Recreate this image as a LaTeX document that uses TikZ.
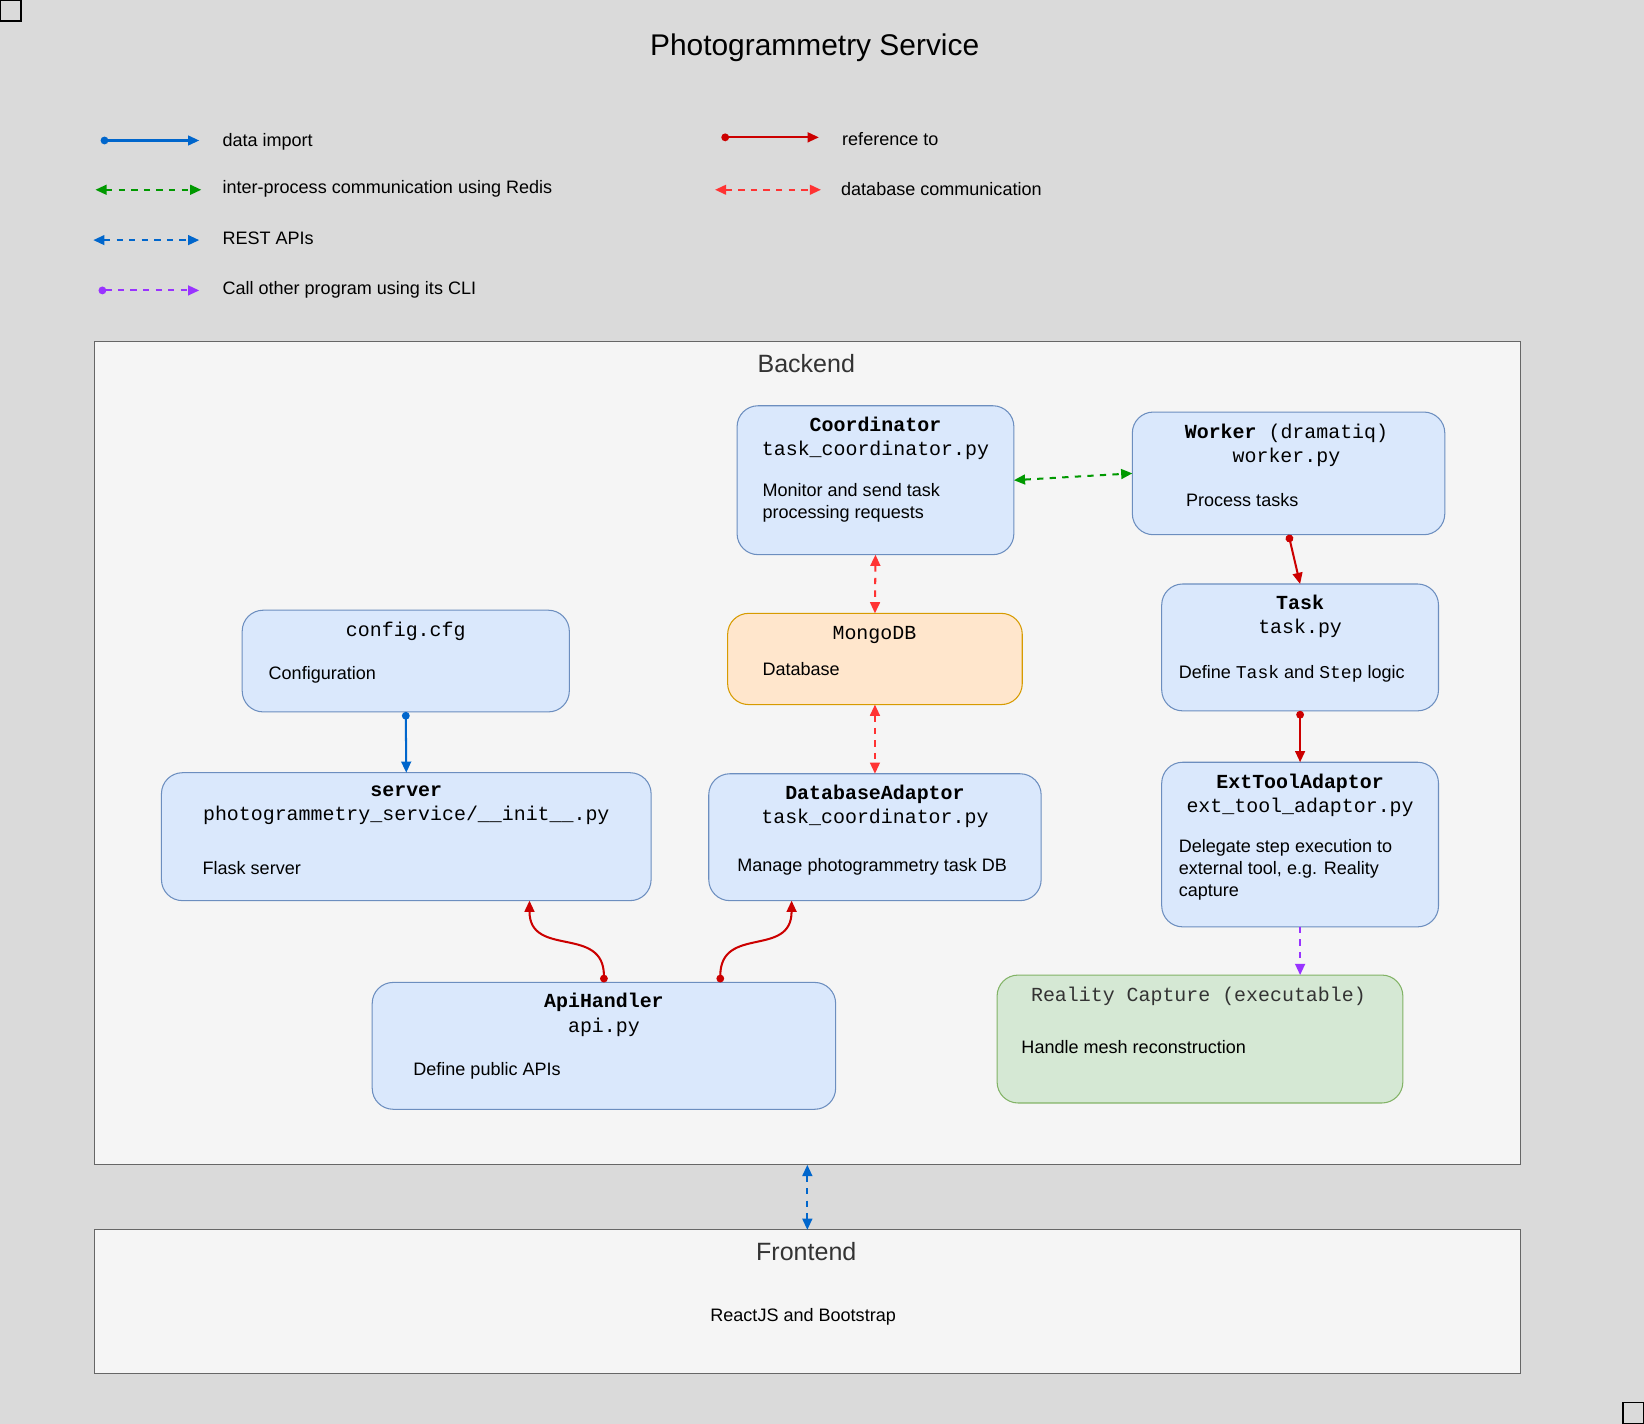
\documentclass[tikz,border=0pt]{standalone}
\usepackage{fontspec}
\setmainfont{Liberation Sans}
\setmonofont{Liberation Mono}
\usetikzlibrary{arrows.meta,calc}

\definecolor{bgcol}{HTML}{DADADA}
\definecolor{panelfill}{HTML}{F5F5F5}
\definecolor{panelline}{HTML}{666666}
\definecolor{bluefill}{HTML}{DAE8FC}
\definecolor{blueline}{HTML}{6C8EBF}
\definecolor{orangefill}{HTML}{FFE6CC}
\definecolor{orangeline}{HTML}{D79B00}
\definecolor{greenfill}{HTML}{D5E8D4}
\definecolor{greenline}{HTML}{82B366}
\definecolor{importcol}{HTML}{0066CC}
\definecolor{rediscol}{HTML}{009900}
\definecolor{clicol}{HTML}{9933FF}
\definecolor{refcol}{HTML}{CC0000}
\definecolor{dbcol}{HTML}{FF3333}
\definecolor{labelcol}{HTML}{333333}

\newcommand{\bodyfont}{\fontsize{12.9}{15.75}\selectfont}
\newcommand{\codefont}{\fontsize{14.25}{17.25}\selectfont\ttfamily}
\newcommand{\code}[1]{{\fontsize{12.9}{15.75}\selectfont\ttfamily #1}}

\tikzset{
  card/.style={rounded corners=15pt, line width=0.75pt, inner sep=0pt, outer sep=0pt},
  bluecard/.style={card, fill=bluefill, draw=blueline},
  orangecard/.style={card, fill=orangefill, draw=orangeline},
  greencard/.style={card, fill=greenfill, draw=greenline},
  panel/.style={fill=panelfill, draw=panelline, line width=0.9pt, inner sep=0pt, outer sep=0pt},
  heading/.style={font=\codefont, align=center, inner sep=0pt, yshift=-1.8pt},
  desc/.style={font=\bodyfont, align=left, anchor=west, inner sep=0pt, yshift=-1.8pt},
  legendtext/.style={font=\bodyfont, anchor=west, inner sep=0pt, yshift=-1.8pt},
  paneltitle/.style={font=\fontsize{17.9}{21}\selectfont, text=labelcol, inner sep=0pt, yshift=-1.5pt},
  endtip/.style={-{Triangle[length=8pt,width=7pt]}},
  dottip/.style={{Circle[length=5.5pt]}-{Triangle[length=8pt,width=7pt]}},
  bothtip/.style={{Triangle[length=8pt,width=7pt]}-{Triangle[length=8pt,width=7pt]}},
  conn/.style={line width=1.45pt},
  dashconn/.style={conn, dash pattern=on 4.5pt off 4.5pt},
  importline/.style={conn, importcol, dottip},
  redisline/.style={dashconn, rediscol, bothtip},
  restline/.style={dashconn, importcol, bothtip},
  cliline/.style={dashconn, clicol, dottip},
  refline/.style={conn, refcol, dottip},
  dbline/.style={dashconn, dbcol, bothtip},
}

\begin{document}
\begin{tikzpicture}[x=0.75pt, y=-0.75pt]
		%%%%% CANVAS %%%%%
		\fill[bgcol] (0, 0) rectangle (1568, 1358);
		\useasboundingbox (0, 0) rectangle (1568, 1358);
		\draw[line width=0.9pt] (0.6, 0.6) rectangle (20, 20);
		\draw[line width=0.9pt] (1548, 1338) rectangle (1567.4, 1357.4);
		
		\node[font=\fontsize{21.4}{25}\selectfont, inner sep=0pt, yshift=-2pt] (title) at (777, 43) {Photogrammetry Service};
		
		%%%%% LEGEND %%%%%
		\coordinate (importA) at (96, 134);   \coordinate (importB) at (190, 134);
		\coordinate (redisA) at (91, 181);    \coordinate (redisB) at (192, 181);
		\coordinate (restA) at (89, 229);     \coordinate (restB) at (190, 229);
		\coordinate (cliA) at (94, 277);      \coordinate (cliB) at (190, 277);
		\coordinate (refA) at (688, 131);     \coordinate (refB) at (781, 131);
		\coordinate (dbA) at (682, 181);      \coordinate (dbB) at (783, 181);
		
		\draw[importline] (importA) -- (importB);
		\draw[redisline] (redisA) -- (redisB);
		\draw[restline] (restA) -- (restB);
		\draw[cliline] (cliA) -- (cliB);
		\draw[refline] (refA) -- (refB);
		\draw[dbline] (dbA) -- (dbB);
		
		\node[legendtext] (importT) at (212, 133) {data import};
		\node[legendtext] (redisT) at (212, 178) {inter-process communication using Redis};
		\node[legendtext] (restT) at (212, 225) {REST APIs};
		\node[legendtext] (cliT) at (212, 274) {Call other program using its CLI};
		\node[legendtext] (refT) at (803, 130) {reference to};
		\node[legendtext] (dbT) at (802, 178) {database communication};
		
		%%%%% PANELS %%%%%
		\node[panel, minimum width=1020pt, minimum height=588.75pt] (backend) at (770, 718.5) {};
		\node[paneltitle] (backendT) at (769, 345) {Backend};
		\node[panel, minimum width=1020pt, minimum height=102.75pt] (frontend) at (770, 1241.5) {};
		\node[paneltitle] (frontendT) at (769, 1192) {Frontend};
		\node[font=\bodyfont, inner sep=0pt, yshift=-1.8pt] (frontendD) at (766, 1254) {ReactJS and Bootstrap};
		
		%%%%% MODULES %%%%%
		\node[bluecard, minimum width=198pt, minimum height=106.5pt] (coord) at (835, 458) {};
		\node[heading] (coordT) at (835, 415.5) {\textbf{Coordinator}\\task\_coordinator.py};
		\node[desc] (coordD) at (727, 477.5) {Monitor and send task\\processing requests};
		
		\node[bluecard, minimum width=223.5pt, minimum height=87.75pt] (worker) at (1229, 451.5) {};
		\node[heading] (workerT) at (1227, 422.5) {\textbf{Worker} (dramatiq)\\worker.py};
		\node[desc] (workerD) at (1131, 475) {Process tasks};
		
		\node[bluecard, minimum width=198pt, minimum height=90.75pt] (task) at (1240, 617.5) {};
		\node[heading] (taskT) at (1240, 585.5) {\textbf{Task}\\task.py};
		\node[desc] (taskD) at (1124, 640) {Define \code{Task} and \code{Step} logic};
		
		\node[orangecard, minimum width=210.75pt, minimum height=65.25pt] (mongo) at (834.5, 628.5) {};
		\node[heading] (mongoT) at (834, 603) {MongoDB};
		\node[desc] (mongoD) at (727, 636) {Database};
		
		\node[bluecard, minimum width=234pt, minimum height=72.75pt] (config) at (387, 630.5) {};
		\node[heading] (configT) at (387, 600) {config.cfg};
		\node[desc] (configD) at (256, 641) {Configuration};
		
		\node[bluecard, minimum width=350.25pt, minimum height=91.5pt] (server) at (387.5, 798) {};
		\node[heading] (serverT) at (387.5, 765.5) {\textbf{server}\\photogrammetry\_service/\_\_init\_\_.py};
		\node[desc] (serverD) at (193, 826) {Flask server};
		
		\node[bluecard, minimum width=237.75pt, minimum height=90.75pt] (dbadaptor) at (834.5, 798.5) {};
		\node[heading] (dbadaptorT) at (834.5, 766.5) {\textbf{DatabaseAdaptor}\\task\_coordinator.py};
		\node[desc] (dbadaptorD) at (703, 824) {Manage photogrammetry task DB};
		
		\node[bluecard, minimum width=198pt, minimum height=117.75pt] (exttool) at (1240, 805.5) {};
		\node[heading] (exttoolT) at (1240, 756.5) {\textbf{ExtToolAdaptor}\\ext\_tool\_adaptor.py};
		\node[desc] (exttoolD) at (1124, 827) {Delegate step execution to\\external tool, e.g. Reality\\capture};
		
		\node[bluecard, minimum width=331.5pt, minimum height=90.75pt] (api) at (576, 997.5) {};
		\node[heading] (apiT) at (576, 965.5) {\textbf{ApiHandler}\\api.py};
		\node[desc] (apiD) at (394, 1019) {Define public APIs};
		
		\node[greencard, minimum width=290.25pt, minimum height=91.5pt] (reality) at (1144.5, 991) {};
		\node[heading, text=labelcol] (realityT) at (1143, 948) {Reality Capture (executable)};
		\node[desc] (realityD) at (974, 996) {Handle mesh reconstruction};
		
		%%%%% CONNECTORS %%%%%
		\draw[redisline] (coord.east) -- (worker.west);
		\draw[dbline] (coord.south) -- (mongo.north);
		\draw[dbline] (mongo.south) -- (dbadaptor.north);
		\draw[refline] (worker.south) -- (task.north);
		\draw[refline] (task.south) -- (exttool.north);
		\draw[dashconn, clicol, endtip] (exttool.south) -- (exttool.south |- reality.north);
		\draw[importline] (config.south) -- (server.north);
		\draw[refline] (api.north) .. controls +(0, -55) and +(0, 55) .. ($(server.south)+(117.5, 0)$);
		\draw[refline] ($(api.north)+(111, 0)$) .. controls +(0, -55) and +(0, 55) .. ($(dbadaptor.south)+(-79.5, 0)$);
		\draw[restline] (backend.south) -- (frontend.north);
		
		%%%%% END %%%%%
	\end{tikzpicture}
\end{document}
